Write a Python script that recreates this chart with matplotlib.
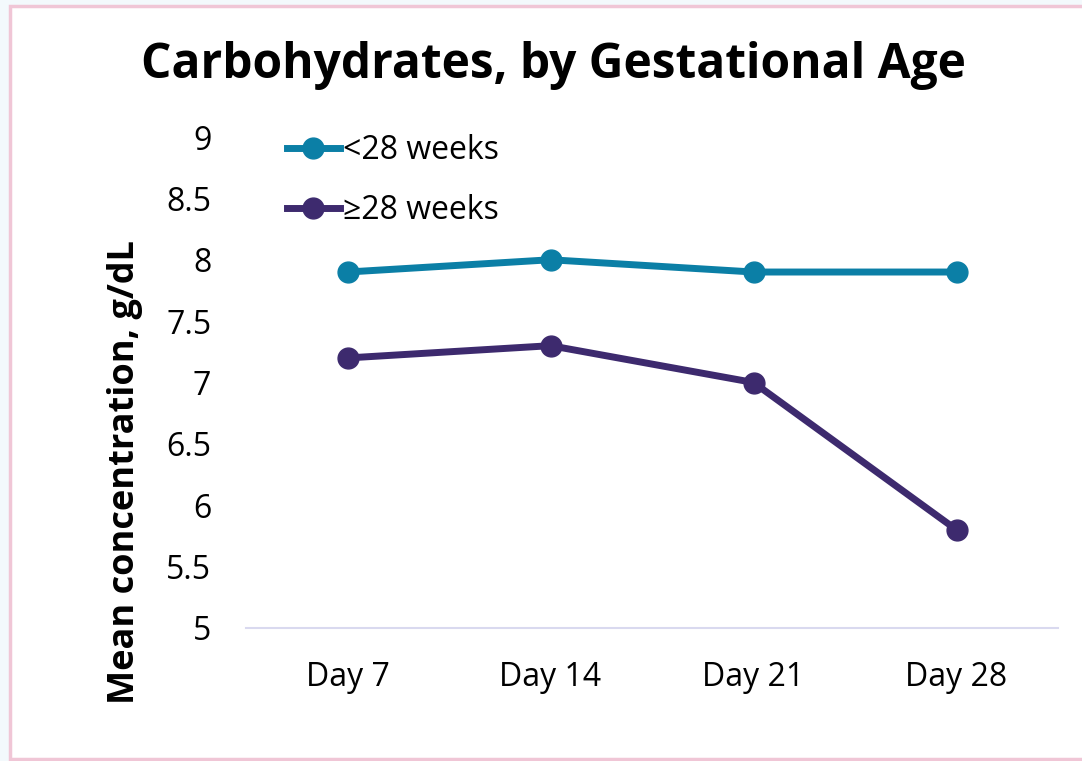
import matplotlib.pyplot as plt
from matplotlib.patches import Rectangle

plt.rcParams['font.family'] = ['Open Sans', 'DejaVu Sans']

days = ['Day 7', 'Day 14', 'Day 21', 'Day 28']
under28 = [7.9, 8.0, 7.9, 7.9]     # <28 weeks
over28 = [7.2, 7.3, 7.0, 5.8]      # >=28 weeks
yticks = [5, 5.5, 6, 6.5, 7, 7.5, 8, 8.5, 9]

teal = '#0b7fa6'
purple = '#3d2a6e'

fig = plt.figure(figsize=(10.82, 7.61), dpi=100)
fig.patch.set_facecolor('#f3f9fc')
# white card with pink border
fig.patches.append(Rectangle((10 / 1082, 2 / 761), 1080 / 1082, 753 / 761,
                             transform=fig.transFigure, facecolor='white',
                             edgecolor='#f0c6d6', linewidth=2.5, zorder=0))

ax = fig.add_axes([246 / 1082, 133 / 761, 812 / 1082, 491 / 761])
ax.set_facecolor('none')
ax.set_zorder(2)

x = range(len(days))
ax.plot(x, under28, color=teal, lw=5, marker='o', ms=15, label='<28 weeks')
ax.plot(x, over28, color=purple, lw=5, marker='o', ms=15, label='≥28 weeks')

ax.set_xlim(-0.5, 3.5)
ax.set_ylim(5, 9)
ax.set_xticks(list(x))
ax.set_xticklabels(days)
ax.set_yticks(yticks)
ax.set_yticklabels(['{:g}'.format(v) for v in yticks])
ax.tick_params(axis='both', length=0, labelsize=23)
ax.tick_params(axis='x', pad=24)
ax.tick_params(axis='y', pad=25)

for s in ['top', 'right', 'left']:
    ax.spines[s].set_visible(False)
ax.spines['bottom'].set_color('#d9d9ef')
ax.spines['bottom'].set_linewidth(1.5)

# y label sits lower than the axes centre, like the original
yl = fig.text(125 / 1082, 1 - 472 / 761, 'Mean concentration, g/dL', rotation=90,
              fontsize=26, fontweight='bold', ha='center', va='center')
t = fig.text(553 / 1082, 1 - 66 / 761, 'Carbohydrates, by Gestational Age',
             fontsize=34.5, fontweight='bold', ha='center', va='center')
t.set_zorder(3)
yl.set_zorder(3)

ax.legend(loc='upper left', bbox_to_anchor=(0.015, 1.065), frameon=False,
          fontsize=23, handlelength=1.65, handletextpad=0.12, labelspacing=0.85)

plt.savefig('out.png', dpi=100, facecolor=fig.get_facecolor())
